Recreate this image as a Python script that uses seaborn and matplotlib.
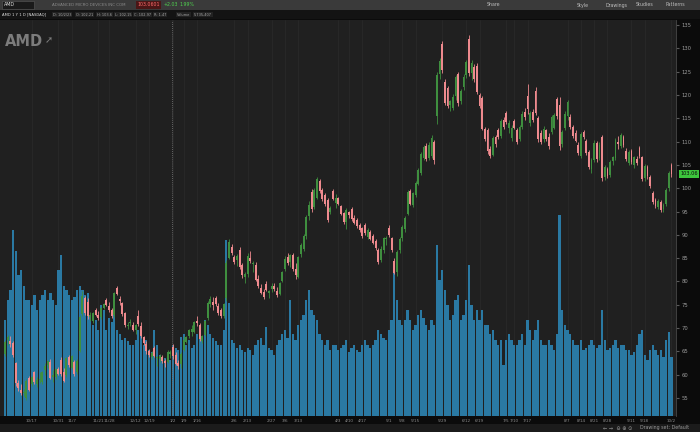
import numpy as np
import pandas as pd
import matplotlib
matplotlib.use("Agg")
import matplotlib.pyplot as plt
import seaborn as sns
from matplotlib.patches import Rectangle

# AMD daily candles, 1 year (2022-10-03 .. 2023-10-02)
opens = [
    64.5, 67.5, 67.2, 66.8, 62.4, 58.2, 56.8, 56.0, 55.0, 59.2,
    58.0, 60.5, 58.0, 58.9, 58.5, 61.0, 62.0, 62.8, 59.5, 59.6,
    61.2, 63.2, 60.5, 60.0, 63.8, 61.5, 62.8, 60.5, 65.0, 73.0,
    76.5, 75.5, 72.4, 71.5, 73.8, 72.8, 72.3, 74.4, 76.0, 74.8,
    73.8, 72.8, 78.6, 76.2, 75.3, 73.2, 70.4, 71.0, 70.6, 69.6,
    72.5, 70.5, 68.0, 66.5, 65.0, 63.8, 65.8, 63.5, 63.4, 63.9,
    62.9, 62.7, 64.5, 66.0, 64.3, 62.6, 62.3, 65.2, 67.1, 68.4,
    69.2, 69.2, 71.6, 70.6, 67.2, 68.6, 72.2, 75.2, 75.5, 76.5,
    74.8, 73.8, 72.5, 76.5, 85.0, 87.3, 85.2, 84.5, 86.8, 83.5,
    81.0, 81.5, 85.0, 83.8, 83.6, 80.6, 78.5, 77.8, 79.5, 77.5,
    78.3, 79.0, 78.0, 77.2, 80.2, 82.6, 85.2, 84.2, 85.6, 82.6,
    81.0, 85.8, 87.0, 89.8, 94.0, 99.2, 96.0, 98.0, 101.5, 99.6,
    98.6, 97.5, 95.0, 99.4, 96.8, 97.8, 96.2, 94.6, 92.8, 94.8,
    95.6, 93.6, 93.2, 92.0, 91.4, 92.2, 89.5, 90.6, 89.8, 88.6,
    86.8, 84.5, 86.8, 89.0, 91.5, 89.3, 84.4, 82.0, 86.8, 89.4,
    91.2, 94.5, 99.4, 96.5, 98.6, 101.0, 103.2, 106.5, 109.0, 106.5,
    107.0, 110.0, 115.5, 124.5, 131.0, 122.8, 121.5, 117.8, 117.2, 119.8,
    124.4, 118.6, 121.6, 124.2, 132.0, 124.6, 126.0, 126.3, 120.0, 119.3,
    112.7, 112.4, 108.3, 107.2, 111.0, 112.5, 111.2, 114.6, 116.2, 113.0,
    110.8, 114.5, 112.5, 110.5, 113.2, 116.3, 119.8, 114.0, 116.4, 120.8,
    115.0, 111.8, 110.5, 112.4, 111.0, 112.0, 113.0, 119.2, 117.8, 109.5,
    113.0, 115.5, 115.3, 113.1, 111.8, 109.3, 107.0, 112.0, 110.2, 107.8,
    104.2, 106.0, 109.7, 106.5, 111.0, 102.4, 104.2, 102.8, 105.8, 106.4,
    109.8, 109.0, 111.0, 108.0, 105.5, 108.0, 105.0, 106.2, 108.6, 106.6,
    102.2, 104.6, 102.4, 99.0, 97.5, 96.0, 97.0, 95.6, 96.6, 100.0,
    105.0,
]
highs = [
    67.5, 68.6, 68.4, 67.2, 62.8, 58.8, 58.0, 57.0, 59.0, 59.8,
    59.8, 60.8, 59.5, 60.6, 60.8, 62.5, 63.2, 63.4, 61.0, 61.5,
    61.6, 63.7, 61.5, 63.8, 64.2, 64.3, 63.2, 63.4, 72.8, 78.0,
    76.9, 76.5, 73.5, 73.5, 74.2, 73.6, 74.5, 75.4, 76.4, 75.5,
    74.2, 77.8, 79.0, 76.9, 75.6, 73.5, 71.3, 72.0, 71.4, 70.8,
    73.8, 71.2, 68.4, 67.3, 65.6, 65.0, 66.2, 64.0, 64.4, 64.3,
    63.4, 65.2, 65.2, 66.6, 64.8, 63.2, 64.8, 68.4, 68.2, 69.7,
    70.6, 71.5, 72.6, 71.0, 68.6, 71.8, 75.8, 76.8, 76.6, 76.9,
    75.4, 74.2, 75.4, 84.5, 89.0, 88.0, 85.6, 85.9, 87.4, 84.0,
    82.0, 86.0, 86.5, 84.3, 84.2, 81.3, 79.4, 78.4, 80.0, 78.2,
    79.6, 79.6, 78.8, 79.8, 82.2, 85.4, 86.0, 85.9, 86.2, 84.0,
    85.5, 88.2, 90.2, 94.2, 97.3, 99.8, 100.0, 102.4, 101.9, 100.0,
    99.0, 97.9, 96.2, 99.9, 98.8, 98.2, 96.5, 94.9, 95.8, 95.2,
    96.0, 94.2, 93.6, 92.5, 91.7, 92.6, 91.4, 91.0, 90.2, 89.2,
    87.2, 87.5, 89.6, 89.8, 92.0, 89.6, 85.0, 86.8, 89.5, 92.0,
    94.0, 99.6, 99.8, 99.2, 101.6, 104.4, 107.8, 109.3, 109.6, 109.8,
    111.4, 110.4, 125.0, 128.0, 131.6, 123.5, 122.0, 119.0, 120.2, 124.2,
    125.0, 121.2, 124.4, 127.6, 132.8, 127.5, 126.6, 126.8, 120.5, 119.8,
    113.2, 112.9, 109.0, 111.3, 111.5, 112.9, 114.9, 115.2, 116.6, 114.6,
    113.6, 114.9, 113.0, 113.6, 116.5, 117.2, 122.4, 116.6, 117.0, 121.8,
    115.5, 112.4, 113.3, 112.8, 111.8, 115.6, 116.2, 119.6, 119.6, 112.5,
    116.5, 119.0, 116.0, 113.6, 112.4, 109.8, 112.0, 112.4, 110.6, 108.2,
    106.5, 110.3, 110.2, 109.8, 111.4, 105.0, 104.6, 106.0, 107.0, 110.8,
    111.2, 111.8, 111.4, 108.6, 108.2, 108.4, 107.0, 106.9, 109.0, 107.0,
    105.2, 105.0, 102.8, 99.4, 98.0, 97.6, 97.4, 96.8, 100.0, 103.6,
    105.4,
]
lows = [
    64.0, 66.4, 65.9, 63.8, 57.6, 56.5, 55.6, 55.4, 54.6, 56.5,
    57.6, 58.0, 57.3, 58.2, 57.9, 60.0, 61.5, 59.0, 58.5, 59.0,
    59.9, 59.7, 58.5, 59.6, 61.6, 61.2, 59.8, 60.1, 64.8, 72.6,
    72.9, 72.0, 71.5, 71.0, 72.5, 71.8, 72.0, 74.0, 74.8, 73.5,
    72.2, 72.3, 77.0, 75.0, 72.5, 70.3, 69.8, 70.5, 69.4, 68.8,
    70.4, 67.8, 66.4, 64.5, 63.8, 63.3, 63.8, 61.8, 62.8, 62.5,
    61.6, 62.5, 63.5, 63.3, 62.0, 61.3, 61.5, 65.0, 66.8, 67.8,
    68.2, 69.0, 70.5, 67.3, 66.8, 68.3, 71.8, 74.5, 73.8, 74.7,
    72.8, 72.2, 72.2, 75.8, 84.8, 85.6, 83.8, 83.4, 82.7, 80.8,
    79.6, 81.0, 83.9, 82.0, 80.0, 78.6, 77.4, 76.2, 77.9, 76.5,
    77.8, 77.9, 76.6, 77.0, 79.8, 82.2, 83.5, 83.2, 82.2, 80.6,
    80.7, 85.2, 86.6, 89.2, 93.2, 95.0, 95.6, 97.6, 99.0, 97.2,
    96.2, 92.8, 94.5, 97.4, 95.8, 96.3, 94.2, 92.4, 91.2, 93.6,
    93.0, 92.3, 91.4, 90.5, 89.4, 89.9, 89.0, 88.8, 88.0, 86.8,
    83.8, 84.2, 86.2, 87.8, 89.6, 86.3, 81.6, 81.2, 86.2, 88.6,
    90.6, 94.2, 96.3, 96.0, 98.2, 100.6, 102.8, 106.0, 105.8, 106.0,
    106.5, 105.2, 113.8, 123.5, 124.8, 117.8, 117.2, 116.5, 116.8, 119.0,
    117.6, 118.0, 121.0, 123.6, 124.0, 123.3, 122.8, 120.2, 117.2, 112.4,
    110.2, 107.4, 106.5, 106.8, 108.8, 110.5, 110.8, 112.8, 113.8, 111.8,
    110.2, 112.6, 109.4, 110.2, 112.8, 114.6, 116.0, 113.3, 114.2, 115.8,
    110.0, 109.5, 110.0, 110.2, 108.5, 111.6, 112.6, 114.8, 108.2, 108.8,
    112.5, 114.6, 112.8, 110.8, 109.8, 107.2, 106.5, 110.6, 107.2, 104.2,
    103.3, 105.6, 105.7, 106.0, 101.6, 101.8, 102.2, 102.4, 105.0, 106.0,
    108.5, 108.6, 108.9, 105.8, 105.0, 105.2, 104.4, 105.0, 106.4, 101.6,
    101.6, 102.0, 100.0, 96.6, 95.8, 95.6, 95.0, 94.8, 96.2, 99.4,
    102.4,
]
closes = [
    67.0, 68.1, 66.6, 64.2, 58.3, 57.1, 56.0, 56.3, 58.6, 56.8,
    59.5, 58.5, 58.9, 59.1, 60.6, 61.8, 62.9, 59.3, 59.9, 61.3,
    60.1, 60.1, 58.6, 63.5, 62.0, 64.0, 60.2, 63.0, 72.4, 76.8,
    73.3, 72.6, 72.8, 73.2, 72.9, 72.2, 74.3, 75.1, 75.0, 73.8,
    72.5, 77.6, 77.4, 75.7, 73.0, 70.6, 70.6, 71.4, 69.6, 70.6,
    70.9, 68.3, 66.8, 65.0, 64.3, 64.7, 64.1, 63.6, 64.0, 63.0,
    62.4, 64.8, 64.8, 64.0, 62.3, 61.8, 64.5, 67.5, 68.0, 69.5,
    69.8, 71.2, 71.0, 67.6, 68.2, 71.6, 75.4, 76.2, 74.9, 75.2,
    73.2, 72.6, 75.2, 84.0, 88.5, 86.0, 84.1, 85.5, 83.2, 81.3,
    81.6, 85.5, 84.4, 83.9, 80.4, 79.0, 77.6, 76.6, 78.2, 77.9,
    79.0, 78.3, 77.0, 79.6, 82.0, 84.8, 84.0, 85.6, 82.6, 81.3,
    85.2, 87.9, 89.8, 93.8, 96.5, 95.6, 99.6, 101.9, 99.4, 97.6,
    96.7, 93.2, 95.8, 97.6, 98.0, 96.6, 94.5, 92.7, 95.4, 94.2,
    93.4, 92.6, 91.8, 91.0, 89.7, 90.3, 91.0, 89.2, 88.3, 87.1,
    84.2, 87.0, 89.3, 89.4, 90.0, 86.8, 81.9, 86.4, 89.2, 91.6,
    93.6, 99.2, 96.7, 98.9, 101.2, 104.0, 107.3, 108.9, 106.3, 109.2,
    110.8, 106.0, 124.2, 127.2, 125.4, 118.2, 117.6, 118.6, 119.6, 123.8,
    118.2, 120.8, 123.9, 127.1, 124.6, 126.8, 123.4, 120.6, 117.6, 112.8,
    110.6, 108.0, 107.0, 110.8, 109.5, 110.9, 114.5, 113.2, 114.2, 114.0,
    113.0, 113.0, 109.8, 113.2, 116.0, 115.2, 117.0, 116.2, 114.6, 116.2,
    110.6, 110.0, 112.8, 110.6, 109.0, 115.2, 115.8, 115.4, 109.0, 112.0,
    116.0, 118.5, 113.2, 111.2, 110.2, 107.6, 111.6, 110.9, 107.6, 104.6,
    106.0, 109.6, 106.2, 109.2, 102.2, 104.6, 102.6, 105.6, 106.6, 110.4,
    109.5, 111.4, 109.3, 106.2, 107.8, 105.6, 106.6, 105.5, 106.8, 102.0,
    104.8, 102.6, 100.4, 97.0, 96.2, 97.2, 95.4, 96.4, 99.6, 103.2,
    103.06,
]
# volume in millions of shares
volumes = [
    82, 100, 108, 160, 142, 121, 125, 112, 100, 100, 95, 104, 91, 100, 104, 108, 100, 106, 100, 95, 125,
    138, 112, 108, 104, 100, 102, 108, 112, 108, 104, 106, 87, 78, 82, 74, 95, 91, 74, 84, 81, 87,
    74, 70, 65, 67, 64, 61, 61, 65, 74, 70, 61, 65, 57, 55, 74, 61, 52, 48, 50, 52, 48,
    61, 58, 57, 68, 70, 61, 65, 58, 61, 70, 74, 65, 82, 78, 70, 67, 64, 61, 61, 74,
    151, 97, 65, 63, 58, 61, 57, 55, 58, 57, 52, 61, 65, 67, 61, 76, 58, 57, 52,
    61, 65, 70, 74, 67, 100, 70, 65, 78, 82, 87, 100, 108, 91, 87, 82, 70, 65, 61, 65, 57, 61, 61,
    57, 58, 61, 65, 55, 58, 61, 57, 55, 61, 65, 61, 58, 61, 65, 74, 70, 67, 65,
    74, 82, 125, 100, 82, 78, 82, 91, 82, 74, 78, 87, 91, 84, 78, 74, 82, 78, 147, 117, 125, 108,
    95, 82, 87, 100, 104, 82, 87, 100, 130, 95, 82, 91, 82, 91, 78, 78, 70, 74, 65, 61, 65,
    44, 65, 70, 65, 61, 61, 65, 70, 61, 82, 74, 65, 74, 82, 65, 61, 61, 65, 61, 57,
    70, 173, 91, 78, 74, 70, 65, 61, 61, 65, 57, 58, 61, 65, 61, 58, 61, 91, 65, 57, 58, 61, 65,
    58, 61, 61, 57, 57, 52, 55, 61, 70, 74, 52, 48, 57, 61, 57, 52, 57, 51, 65, 72, 51,
]
holidays = ["2022-11-24", "2022-12-26", "2023-01-02", "2023-01-16", "2023-02-20",
            "2023-04-07", "2023-05-29", "2023-06-19", "2023-07-04", "2023-09-04"]
tick_dates = ["2022-10-17", "2022-10-31", "2022-11-07", "2022-11-21", "2022-11-28",
              "2022-12-12", "2022-12-19", "2023-01-02", "2023-01-09", "2023-01-16",
              "2023-02-06", "2023-02-13", "2023-02-27", "2023-03-06", "2023-03-13",
              "2023-04-03", "2023-04-10", "2023-04-17", "2023-05-01", "2023-05-08",
              "2023-05-15", "2023-05-29", "2023-06-12", "2023-06-19", "2023-07-05",
              "2023-07-10", "2023-07-17", "2023-08-07", "2023-08-14", "2023-08-21",
              "2023-08-28", "2023-09-11", "2023-09-18", "2023-10-02"]
price_ticks = list(range(55, 140, 5))

UP = "#3f8f3f"
DOWN = "#ee8a8e"
VOL = "#2a79a3"
BG = "#202020"

sns.set_style("dark", {"axes.facecolor": BG, "figure.facecolor": "#0b0b0b"})
plt.rcParams["font.family"] = ["DejaVu Sans"]

dates = pd.bdate_range("2022-10-03", "2023-10-02")
dates = dates[~dates.isin(pd.to_datetime(holidays))]
df = pd.DataFrame({"i": np.arange(len(dates)), "open": opens, "high": highs,
                   "low": lows, "close": closes, "volume": volumes})
df["up"] = df["close"] >= df["open"]

W, H = 700, 432
fig = plt.figure(figsize=(7, 4.32), dpi=100)
ax = fig.add_axes([0, 1 - 416 / H, 676 / W, 396 / H])

# volume
sns.barplot(data=df, x="i", y="volume", native_scale=True, width=0.85,
            color=VOL, saturation=1, linewidth=0, errorbar=None, ax=ax)
ax.set_xlim(-1.9, len(df) + 0.7)
ax.set_ylim(0, 340)
ax.set_yticks([])
ax.set_xlabel("")
ax.set_ylabel("")
tpos = dates.searchsorted(pd.to_datetime(tick_dates))
ax.set_xticks(tpos)
ax.set_xticklabels([f"{d.month}/{d.day}" for d in pd.to_datetime(tick_dates)],
                   fontsize=3.0, color="#8c8c8c")
ax.tick_params(axis="x", length=0, pad=2.5)
ax.grid(axis="x", color="#2b2b2b", lw=0.5)
ax.set_axisbelow(True)
ax.axvline(62.5, color="#7a7a7a", ls=(0, (1, 1.5)), lw=0.6, zorder=3)
for s in ax.spines.values():
    s.set_visible(False)

# candles
ax2 = ax.twinx()
for is_up, col in [(True, UP), (False, DOWN)]:
    d = df[df["up"] == is_up]
    ax2.vlines(d["i"], d["low"], d["high"], color=col, lw=0.6)
    body = (d["close"] - d["open"]).abs().clip(lower=0.2)
    ax2.bar(d["i"], body, bottom=d[["open", "close"]].min(axis=1),
            width=0.7, color=col, linewidth=0)
ax2.set_ylim(55 - 18 / 4.6625, 55 + 378 / 4.6625)
ax2.set_yticks(price_ticks)
ax2.set_yticklabels([str(p) for p in price_ticks], fontsize=3.8, color="#9a9a9a")
ax2.tick_params(axis="y", right=True, length=2, color="#5a5a5a", pad=2)
for k, s in ax2.spines.items():
    s.set_visible(k == "right")
ax2.spines["right"].set_color("#4a4a4a")
ax2.spines["right"].set_linewidth(0.6)
ax2.annotate(f"{closes[-1]:.2f}", xy=(1.0, closes[-1]), xycoords=("axes fraction", "data"),
             xytext=(3, 0), textcoords="offset points", fontsize=3.6, color="#0b0b0b",
             va="center", ha="left",
             bbox=dict(boxstyle="square,pad=0.3", fc="#3cc43c", ec="none"))

# window chrome
def frect(x0, y0, w, h, fc, ec="none"):
    fig.patches.append(Rectangle((x0 / W, 1 - (y0 + h) / H), w / W, h / H,
                                 transform=fig.transFigure, fc=fc, ec=ec, lw=0.4))

def ftext(x, y, s, **kw):
    kw.setdefault("fontsize", 3.4)
    kw.setdefault("color", "#bdbdbd")
    fig.text(x / W, 1 - y / H, s, va="center", **kw)

frect(0, 0, W, 10, "#3a3a3a")
frect(0, 10, W, 9, "#131313")
frect(0, 424, W, 8, "#1b1b1b")
frect(2, 1.5, 32, 7, "#1a1a1a", "#5a5a5a")
ftext(4, 5, "AMD", color="#dddddd")
ftext(52, 5, "ADVANCED MICRO DEVICES INC COM", color="#8a8a8a", fontsize=2.9)
ftext(137, 5, "103.0601", color="#ff6b6b",
      bbox=dict(boxstyle="square,pad=0.3", fc="#4a1616", ec="none"))
ftext(164, 5, "+2.03", color="#4fd14f")
ftext(179, 5, "1.99%", color="#4fd14f")
for x, s in [(487, "Share"), (577, "Style"), (605, "Drawings"), (636, "Studies"), (665, "Patterns")]:
    ftext(x, 5, s)
ftext(2, 14.5, "AMD 1 Y 1 D [NASDAQ]", color="#e0e0e0", fontsize=2.7)
for x, s in [(53, "D: 10/2/23"), (76, "O: 102.21"), (97, "H: 103.6"), (115, "L: 102.15"),
             (134, "C: 102.97"), (154, "R: 1.47"), (177, "Volume"), (194, "5,735,407")]:
    ftext(x, 14.5, s, fontsize=2.5, color="#a8a8a8",
          bbox=dict(boxstyle="square,pad=0.2", fc="#222222", ec="none"))
ftext(603, 428, "\u2190 \u2192  \u2296 \u2295 \u2299", color="#9a9a9a", fontsize=3.6)
ftext(640, 428, "Drawing set: Default", color="#9a9a9a", fontsize=3.4)

# AMD watermark
ftext(5, 41, "AMD", fontsize=10.5, weight="bold", color="#7c7c7c")
ftext(45, 40, "\u279a", fontsize=7, weight="bold", color="#7c7c7c")

fig.savefig("out.png", dpi=100, facecolor=fig.get_facecolor())
